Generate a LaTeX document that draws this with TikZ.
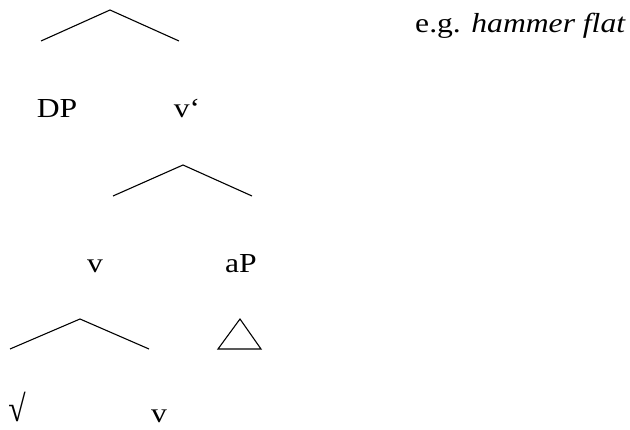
\documentclass[tikz,border=0pt]{standalone}
\usepackage{fontspec}
\setmainfont{Liberation Serif}
\usetikzlibrary{positioning}

\begin{document}
\begin{tikzpicture}[
  x=1pt, y=-1pt,
  lbl/.style={anchor=base, inner sep=0pt, xscale=1.15, transform shape,
              font=\fontsize{27.5}{32}\selectfont},
  br/.style={line width=1.1pt, line join=miter}]

  \useasboundingbox (0,0) rectangle (630,430);

  % --- branches ---
  \draw[br] (41,41) coordinate (t1l) -- (110,10) coordinate (t1) -- (179,41) coordinate (t1r);
  \draw[br] (113,196) coordinate (t2l) -- (183,165) coordinate (t2) -- (252,196) coordinate (t2r);
  \draw[br] (10,349) coordinate (t3l) -- (80,319) coordinate (t3) -- (149,349) coordinate (t3r);
  \draw[br] (218,349) coordinate (tril) -- (240,319) coordinate (tri) -- (261,349) coordinate (trir) -- cycle;

  % --- labels ---
  \node[lbl] (dp)    at (57,118)  {DP};
  \node[lbl] (vbar)  at (187,118) {v‘};
  \node[lbl] (vhead) at (95,273)  {v};
  \node[lbl] (ap)    at (241,273) {aP};
  \node[lbl, yscale=1.35] (root) at (17,422) {√};
  \node[lbl] (vaff)  at (159,423) {v};

  % --- example ---
  \node[lbl, anchor=base west] (eg) at (415,33) {e.g. \textit{hammer flat}};
\end{tikzpicture}
\end{document}
